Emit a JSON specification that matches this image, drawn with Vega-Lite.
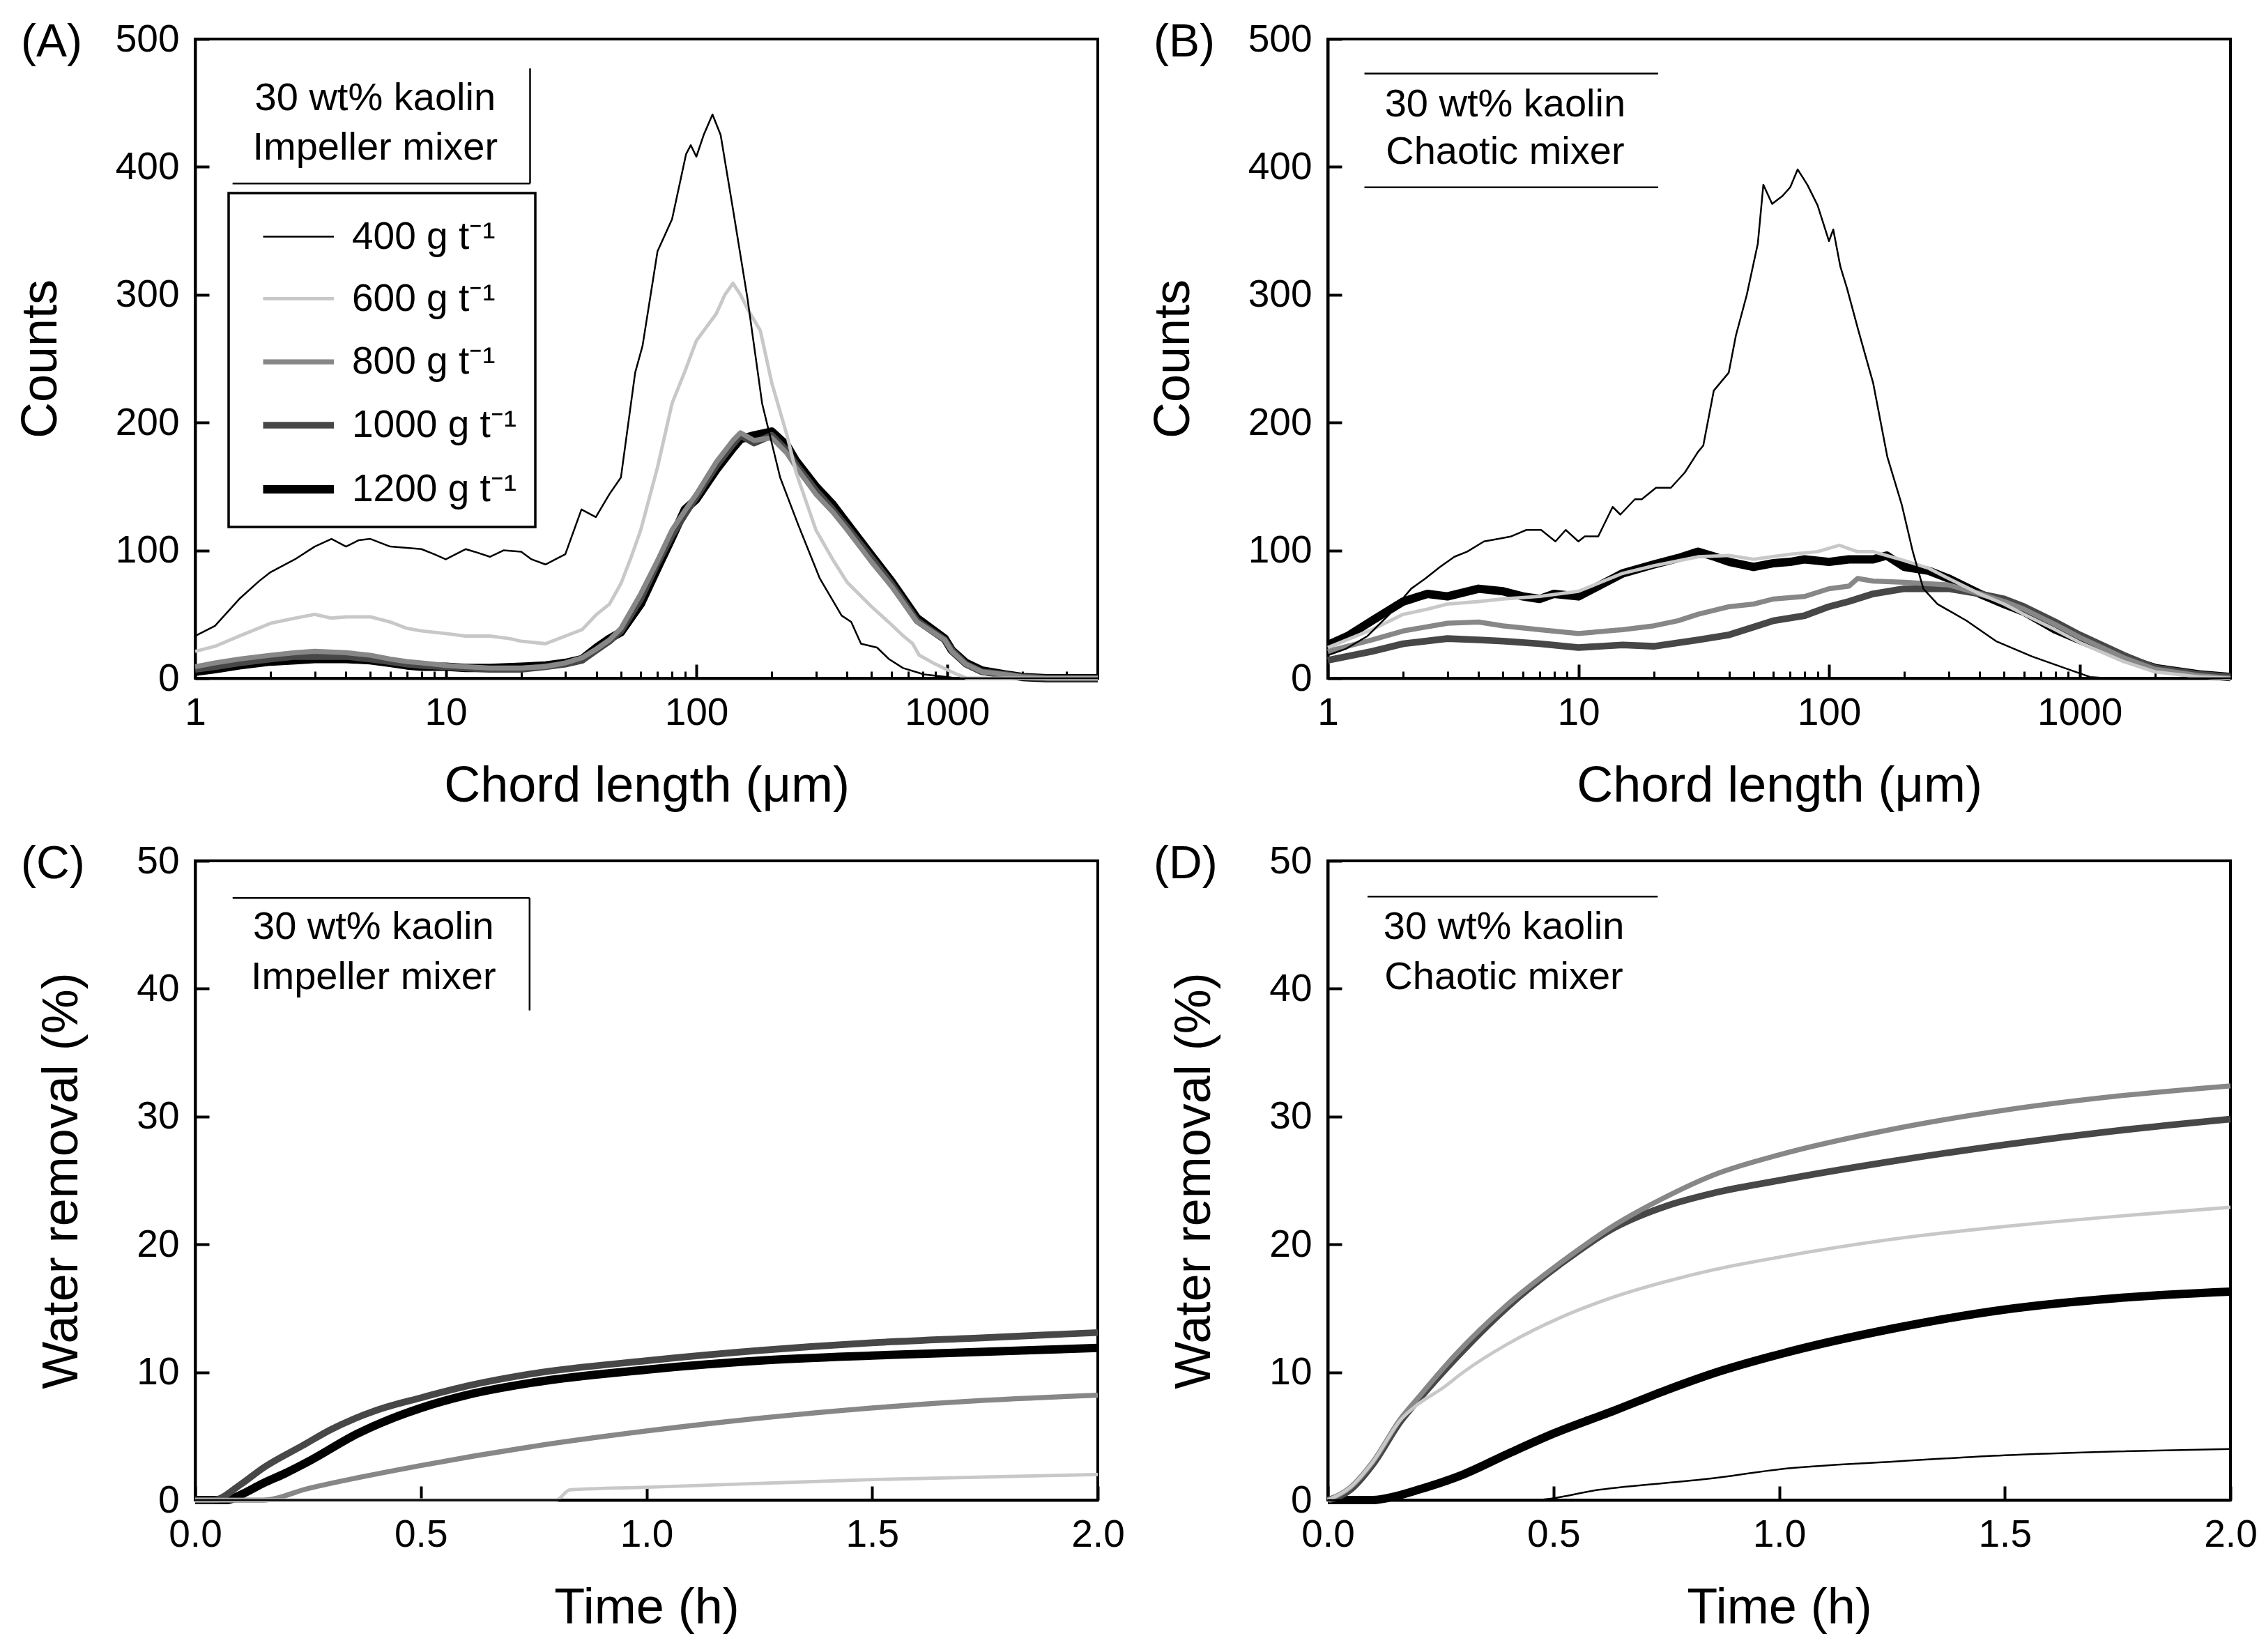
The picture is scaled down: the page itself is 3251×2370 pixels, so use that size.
{
  "$schema": "https://vega.github.io/schema/vega-lite/v6.json",
  "description": "Chord length distributions (A, B) and water removal over time (C, D) for 30 wt% kaolin at five flocculant doses.",
  "background": "white",
  "padding": {"left": 20, "top": 26, "right": 10, "bottom": 10},
  "config": {
    "font": "Liberation Sans",
    "view": {"stroke": "black", "strokeWidth": 4},
    "axis": {
      "grid": false, "domainColor": "black", "domainWidth": 4,
      "tickColor": "black", "tickWidth": 4, "tickSize": -20,
      "labelColor": "black", "labelFontSize": 55, "labelFont": "Liberation Sans",
      "labelFlush": false, "labelOverlap": false, "labelBound": false,
      "titleFont": "Liberation Sans", "titleFontSize": 72, "titleFontWeight": "normal", "titleColor": "black"
    },
    "axisX": {"labelPadding": 43, "titlePadding": 42},
    "axisY": {"labelPadding": 43, "titlePadding": 70},
    "title": {
      "font": "Liberation Sans", "fontSize": 66, "fontWeight": "normal", "color": "black",
      "anchor": "start", "frame": "group", "baseline": "middle", "offset": 0, "dx": -250, "dy": 70
    }
  },
  "datasets": {
    "A": [
      {"d":1200,"x":1,"y":5},{"d":1200,"x":1.2,"y":7},{"d":1200,"x":1.5,"y":10},{"d":1200,"x":2,"y":13},{"d":1200,"x":2.5,"y":14},{"d":1200,"x":3,"y":15},{"d":1200,"x":4,"y":15},{"d":1200,"x":5,"y":14},{"d":1200,"x":6,"y":12},{"d":1200,"x":7,"y":10},{"d":1200,"x":8,"y":9},{"d":1200,"x":10,"y":9},{"d":1200,"x":12,"y":8},{"d":1200,"x":15,"y":8},{"d":1200,"x":20,"y":9},{"d":1200,"x":25,"y":10},{"d":1200,"x":30,"y":12},{"d":1200,"x":35,"y":15},{"d":1200,"x":40,"y":24},{"d":1200,"x":45,"y":31},{"d":1200,"x":50,"y":36},{"d":1200,"x":60,"y":58},{"d":1200,"x":70,"y":86},{"d":1200,"x":80,"y":110},{"d":1200,"x":90,"y":132},{"d":1200,"x":100,"y":140},{"d":1200,"x":120,"y":163},{"d":1200,"x":140,"y":180},{"d":1200,"x":150,"y":187},{"d":1200,"x":170,"y":190},{"d":1200,"x":200,"y":193},{"d":1200,"x":230,"y":182},{"d":1200,"x":250,"y":170},{"d":1200,"x":300,"y":150},{"d":1200,"x":350,"y":136},{"d":1200,"x":400,"y":121},{"d":1200,"x":500,"y":96},{"d":1200,"x":600,"y":76},{"d":1200,"x":760,"y":47},{"d":1200,"x":980,"y":31},{"d":1200,"x":1045,"y":22},{"d":1200,"x":1190,"y":12},{"d":1200,"x":1380,"y":6},{"d":1200,"x":1700,"y":3},{"d":1200,"x":2000,"y":1},{"d":1200,"x":2500,"y":0},{"d":1200,"x":4000,"y":0},
      {"d":1000,"x":1,"y":7},{"d":1000,"x":1.2,"y":9},{"d":1000,"x":1.5,"y":12},{"d":1000,"x":2,"y":15},{"d":1000,"x":2.5,"y":17},{"d":1000,"x":3,"y":17},{"d":1000,"x":4,"y":17},{"d":1000,"x":5,"y":15},{"d":1000,"x":6,"y":13},{"d":1000,"x":7,"y":11},{"d":1000,"x":8,"y":10},{"d":1000,"x":10,"y":9},{"d":1000,"x":12,"y":8},{"d":1000,"x":15,"y":7},{"d":1000,"x":20,"y":7},{"d":1000,"x":25,"y":9},{"d":1000,"x":30,"y":11},{"d":1000,"x":35,"y":14},{"d":1000,"x":40,"y":22},{"d":1000,"x":45,"y":29},{"d":1000,"x":50,"y":37},{"d":1000,"x":60,"y":62},{"d":1000,"x":70,"y":90},{"d":1000,"x":80,"y":112},{"d":1000,"x":90,"y":128},{"d":1000,"x":100,"y":142},{"d":1000,"x":120,"y":166},{"d":1000,"x":140,"y":183},{"d":1000,"x":150,"y":190},{"d":1000,"x":170,"y":184},{"d":1000,"x":200,"y":190},{"d":1000,"x":230,"y":178},{"d":1000,"x":250,"y":167},{"d":1000,"x":300,"y":147},{"d":1000,"x":350,"y":132},{"d":1000,"x":400,"y":118},{"d":1000,"x":500,"y":94},{"d":1000,"x":600,"y":74},{"d":1000,"x":760,"y":45},{"d":1000,"x":980,"y":30},{"d":1000,"x":1045,"y":22},{"d":1000,"x":1190,"y":11},{"d":1000,"x":1380,"y":5},{"d":1000,"x":1700,"y":3},{"d":1000,"x":2000,"y":1},{"d":1000,"x":2500,"y":0},{"d":1000,"x":4000,"y":0},
      {"d":800,"x":1,"y":9},{"d":800,"x":1.2,"y":12},{"d":800,"x":1.5,"y":15},{"d":800,"x":2,"y":18},{"d":800,"x":2.5,"y":20},{"d":800,"x":3,"y":21},{"d":800,"x":4,"y":20},{"d":800,"x":5,"y":18},{"d":800,"x":6,"y":15},{"d":800,"x":7,"y":13},{"d":800,"x":8,"y":12},{"d":800,"x":10,"y":10},{"d":800,"x":12,"y":9},{"d":800,"x":15,"y":8},{"d":800,"x":20,"y":8},{"d":800,"x":25,"y":9},{"d":800,"x":30,"y":12},{"d":800,"x":35,"y":16},{"d":800,"x":40,"y":23},{"d":800,"x":45,"y":30},{"d":800,"x":50,"y":39},{"d":800,"x":60,"y":66},{"d":800,"x":70,"y":92},{"d":800,"x":80,"y":116},{"d":800,"x":90,"y":131},{"d":800,"x":100,"y":144},{"d":800,"x":120,"y":169},{"d":800,"x":140,"y":186},{"d":800,"x":150,"y":192},{"d":800,"x":170,"y":186},{"d":800,"x":200,"y":188},{"d":800,"x":230,"y":176},{"d":800,"x":250,"y":165},{"d":800,"x":300,"y":144},{"d":800,"x":350,"y":130},{"d":800,"x":400,"y":116},{"d":800,"x":500,"y":91},{"d":800,"x":600,"y":72},{"d":800,"x":760,"y":44},{"d":800,"x":980,"y":30},{"d":800,"x":1045,"y":21},{"d":800,"x":1190,"y":11},{"d":800,"x":1380,"y":5},{"d":800,"x":1700,"y":3},{"d":800,"x":2000,"y":1},{"d":800,"x":2500,"y":0},{"d":800,"x":4000,"y":0},
      {"d":600,"x":1,"y":21},{"d":600,"x":1.2,"y":25},{"d":600,"x":1.5,"y":33},{"d":600,"x":2,"y":43},{"d":600,"x":2.5,"y":47},{"d":600,"x":3,"y":50},{"d":600,"x":3.5,"y":47},{"d":600,"x":4,"y":48},{"d":600,"x":5,"y":48},{"d":600,"x":6,"y":44},{"d":600,"x":7,"y":39},{"d":600,"x":8,"y":37},{"d":600,"x":10,"y":35},{"d":600,"x":12,"y":33},{"d":600,"x":15,"y":33},{"d":600,"x":18,"y":31},{"d":600,"x":20,"y":29},{"d":600,"x":25,"y":27},{"d":600,"x":30,"y":33},{"d":600,"x":35,"y":38},{"d":600,"x":40,"y":50},{"d":600,"x":45,"y":58},{"d":600,"x":50,"y":74},{"d":600,"x":55,"y":95},{"d":600,"x":60,"y":116},{"d":600,"x":70,"y":165},{"d":600,"x":80,"y":215},{"d":600,"x":90,"y":240},{"d":600,"x":100,"y":264},{"d":600,"x":110,"y":275},{"d":600,"x":120,"y":285},{"d":600,"x":130,"y":300},{"d":600,"x":140,"y":309},{"d":600,"x":150,"y":300},{"d":600,"x":160,"y":289},{"d":600,"x":180,"y":272},{"d":600,"x":200,"y":231},{"d":600,"x":230,"y":190},{"d":600,"x":250,"y":161},{"d":600,"x":300,"y":116},{"d":600,"x":350,"y":93},{"d":600,"x":400,"y":75},{"d":600,"x":500,"y":56},{"d":600,"x":600,"y":42},{"d":600,"x":670,"y":33},{"d":600,"x":730,"y":27},{"d":600,"x":775,"y":18},{"d":600,"x":900,"y":11},{"d":600,"x":1070,"y":4},{"d":600,"x":1200,"y":0},{"d":600,"x":4000,"y":0},
      {"d":400,"x":1,"y":33},{"d":400,"x":1.2,"y":41},{"d":400,"x":1.5,"y":62},{"d":400,"x":1.8,"y":76},{"d":400,"x":2,"y":83},{"d":400,"x":2.5,"y":93},{"d":400,"x":3,"y":103},{"d":400,"x":3.5,"y":109},{"d":400,"x":4,"y":103},{"d":400,"x":4.5,"y":108},{"d":400,"x":5,"y":109},{"d":400,"x":6,"y":103},{"d":400,"x":7,"y":102},{"d":400,"x":8,"y":101},{"d":400,"x":9,"y":97},{"d":400,"x":10,"y":93},{"d":400,"x":12,"y":101},{"d":400,"x":13,"y":99},{"d":400,"x":15,"y":95},{"d":400,"x":17,"y":100},{"d":400,"x":20,"y":99},{"d":400,"x":22,"y":93},{"d":400,"x":25,"y":89},{"d":400,"x":28,"y":94},{"d":400,"x":30,"y":97},{"d":400,"x":34.8,"y":132},{"d":400,"x":39.7,"y":126},{"d":400,"x":45,"y":144},{"d":400,"x":50,"y":157},{"d":400,"x":57,"y":239},{"d":400,"x":61,"y":260},{"d":400,"x":70,"y":334},{"d":400,"x":80,"y":359},{"d":400,"x":91,"y":410},{"d":400,"x":95,"y":417},{"d":400,"x":100,"y":408},{"d":400,"x":107,"y":425},{"d":400,"x":116,"y":441},{"d":400,"x":125,"y":425},{"d":400,"x":140,"y":367},{"d":400,"x":160,"y":297},{"d":400,"x":183,"y":215},{"d":400,"x":216,"y":157},{"d":400,"x":255,"y":120},{"d":400,"x":311,"y":78},{"d":400,"x":380,"y":49},{"d":400,"x":415,"y":44},{"d":400,"x":454,"y":27},{"d":400,"x":526,"y":24},{"d":400,"x":587,"y":15},{"d":400,"x":668,"y":8},{"d":400,"x":809,"y":3},{"d":400,"x":1000,"y":1},{"d":400,"x":1100,"y":0},{"d":400,"x":4000,"y":0}
    ],
    "B": [
      {"d":1200,"x":1,"y":26},{"d":1200,"x":1.2,"y":33},{"d":1200,"x":1.5,"y":45},{"d":1200,"x":2,"y":60},{"d":1200,"x":2.5,"y":66},{"d":1200,"x":3,"y":64},{"d":1200,"x":4,"y":70},{"d":1200,"x":5,"y":68},{"d":1200,"x":6,"y":64},{"d":1200,"x":7,"y":62},{"d":1200,"x":8,"y":66},{"d":1200,"x":10,"y":64},{"d":1200,"x":12,"y":72},{"d":1200,"x":15,"y":82},{"d":1200,"x":20,"y":89},{"d":1200,"x":25,"y":94},{"d":1200,"x":30,"y":99},{"d":1200,"x":35,"y":95},{"d":1200,"x":40,"y":91},{"d":1200,"x":50,"y":87},{"d":1200,"x":60,"y":90},{"d":1200,"x":70,"y":91},{"d":1200,"x":80,"y":93},{"d":1200,"x":100,"y":91},{"d":1200,"x":120,"y":93},{"d":1200,"x":150,"y":93},{"d":1200,"x":170,"y":96},{"d":1200,"x":200,"y":87},{"d":1200,"x":250,"y":84},{"d":1200,"x":300,"y":78},{"d":1200,"x":400,"y":66},{"d":1200,"x":500,"y":58},{"d":1200,"x":600,"y":52},{"d":1200,"x":800,"y":38},{"d":1200,"x":1000,"y":30},{"d":1200,"x":1500,"y":16},{"d":1200,"x":2000,"y":8},{"d":1200,"x":3000,"y":3},{"d":1200,"x":4000,"y":1},
      {"d":1000,"x":1,"y":14},{"d":1000,"x":1.5,"y":21},{"d":1000,"x":2,"y":27},{"d":1000,"x":3,"y":31},{"d":1000,"x":4,"y":30},{"d":1000,"x":5,"y":29},{"d":1000,"x":7,"y":27},{"d":1000,"x":10,"y":24},{"d":1000,"x":15,"y":26},{"d":1000,"x":20,"y":25},{"d":1000,"x":30,"y":30},{"d":1000,"x":40,"y":34},{"d":1000,"x":50,"y":40},{"d":1000,"x":60,"y":45},{"d":1000,"x":80,"y":49},{"d":1000,"x":100,"y":56},{"d":1000,"x":120,"y":60},{"d":1000,"x":150,"y":66},{"d":1000,"x":200,"y":70},{"d":1000,"x":300,"y":70},{"d":1000,"x":400,"y":66},{"d":1000,"x":500,"y":62},{"d":1000,"x":600,"y":56},{"d":1000,"x":800,"y":44},{"d":1000,"x":1000,"y":34},{"d":1000,"x":1500,"y":18},{"d":1000,"x":2000,"y":8},{"d":1000,"x":3000,"y":3},{"d":1000,"x":4000,"y":1},
      {"d":800,"x":1,"y":21},{"d":800,"x":1.5,"y":30},{"d":800,"x":2,"y":37},{"d":800,"x":3,"y":43},{"d":800,"x":4,"y":44},{"d":800,"x":5,"y":41},{"d":800,"x":7,"y":38},{"d":800,"x":10,"y":35},{"d":800,"x":15,"y":38},{"d":800,"x":20,"y":41},{"d":800,"x":25,"y":45},{"d":800,"x":30,"y":50},{"d":800,"x":40,"y":56},{"d":800,"x":50,"y":58},{"d":800,"x":60,"y":62},{"d":800,"x":80,"y":64},{"d":800,"x":100,"y":70},{"d":800,"x":120,"y":72},{"d":800,"x":130,"y":78},{"d":800,"x":150,"y":76},{"d":800,"x":200,"y":75},{"d":800,"x":300,"y":73},{"d":800,"x":400,"y":66},{"d":800,"x":500,"y":60},{"d":800,"x":600,"y":54},{"d":800,"x":800,"y":42},{"d":800,"x":1000,"y":32},{"d":800,"x":1500,"y":16},{"d":800,"x":2000,"y":7},{"d":800,"x":3000,"y":2},{"d":800,"x":4000,"y":0},
      {"d":600,"x":1,"y":24},{"d":600,"x":1.5,"y":38},{"d":600,"x":2,"y":50},{"d":600,"x":2.5,"y":54},{"d":600,"x":3,"y":58},{"d":600,"x":4,"y":60},{"d":600,"x":5,"y":62},{"d":600,"x":7,"y":64},{"d":600,"x":10,"y":68},{"d":600,"x":15,"y":82},{"d":600,"x":20,"y":88},{"d":600,"x":30,"y":95},{"d":600,"x":40,"y":96},{"d":600,"x":50,"y":93},{"d":600,"x":70,"y":97},{"d":600,"x":90,"y":99},{"d":600,"x":110,"y":104},{"d":600,"x":130,"y":99},{"d":600,"x":150,"y":99},{"d":600,"x":200,"y":92},{"d":600,"x":250,"y":86},{"d":600,"x":300,"y":78},{"d":600,"x":400,"y":66},{"d":600,"x":500,"y":58},{"d":600,"x":600,"y":50},{"d":600,"x":800,"y":38},{"d":600,"x":1000,"y":28},{"d":600,"x":1500,"y":13},{"d":600,"x":2000,"y":5},{"d":600,"x":3000,"y":1},{"d":600,"x":4000,"y":0},
      {"d":400,"x":1,"y":18},{"d":400,"x":1.18,"y":23},{"d":400,"x":1.44,"y":33},{"d":400,"x":1.76,"y":50},{"d":400,"x":2.15,"y":70},{"d":400,"x":2.45,"y":78},{"d":400,"x":2.8,"y":87},{"d":400,"x":3.2,"y":95},{"d":400,"x":3.6,"y":99},{"d":400,"x":4.2,"y":107},{"d":400,"x":4.8,"y":109},{"d":400,"x":5.4,"y":111},{"d":400,"x":6.2,"y":116},{"d":400,"x":7.1,"y":116},{"d":400,"x":8.1,"y":107},{"d":400,"x":8.9,"y":116},{"d":400,"x":10,"y":107},{"d":400,"x":10.6,"y":111},{"d":400,"x":12,"y":111},{"d":400,"x":13.7,"y":134},{"d":400,"x":14.7,"y":128},{"d":400,"x":16.8,"y":140},{"d":400,"x":17.9,"y":140},{"d":400,"x":20.4,"y":149},{"d":400,"x":23.4,"y":149},{"d":400,"x":26.6,"y":161},{"d":400,"x":30,"y":177},{"d":400,"x":31.5,"y":182},{"d":400,"x":34.7,"y":225},{"d":400,"x":39.8,"y":239},{"d":400,"x":42.5,"y":268},{"d":400,"x":47,"y":300},{"d":400,"x":52,"y":340},{"d":400,"x":54.7,"y":386},{"d":400,"x":59.3,"y":371},{"d":400,"x":65,"y":377},{"d":400,"x":70,"y":384},{"d":400,"x":75,"y":398},{"d":400,"x":82,"y":386},{"d":400,"x":90,"y":370},{"d":400,"x":100,"y":342},{"d":400,"x":104,"y":351},{"d":400,"x":111,"y":322},{"d":400,"x":118,"y":305},{"d":400,"x":131,"y":272},{"d":400,"x":150,"y":231},{"d":400,"x":171,"y":173},{"d":400,"x":195,"y":136},{"d":400,"x":216,"y":99},{"d":400,"x":238,"y":70},{"d":400,"x":271,"y":58},{"d":400,"x":354,"y":45},{"d":400,"x":464,"y":29},{"d":400,"x":647,"y":17},{"d":400,"x":900,"y":7},{"d":400,"x":1100,"y":1},{"d":400,"x":1300,"y":0},{"d":400,"x":4000,"y":0}
    ],
    "C": [
      {"d":1200,"x":0,"y":0},{"d":1200,"x":0.07,"y":0},{"d":1200,"x":0.1,"y":0.4},{"d":1200,"x":0.15,"y":1.3},{"d":1200,"x":0.2,"y":2.1},{"d":1200,"x":0.25,"y":3.0},{"d":1200,"x":0.36,"y":5.2},{"d":1200,"x":0.5,"y":7.2},{"d":1200,"x":0.6,"y":8.2},{"d":1200,"x":0.75,"y":9.2},{"d":1200,"x":1.0,"y":10.2},{"d":1200,"x":1.25,"y":10.9},{"d":1200,"x":1.5,"y":11.3},{"d":1200,"x":1.75,"y":11.6},{"d":1200,"x":2.0,"y":11.9},
      {"d":1000,"x":0,"y":0},{"d":1000,"x":0.04,"y":0},{"d":1000,"x":0.1,"y":1.2},{"d":1000,"x":0.15,"y":2.5},{"d":1000,"x":0.24,"y":4.3},{"d":1000,"x":0.3,"y":5.5},{"d":1000,"x":0.4,"y":7.0},{"d":1000,"x":0.5,"y":8.0},{"d":1000,"x":0.6,"y":8.9},{"d":1000,"x":0.75,"y":9.9},{"d":1000,"x":1.0,"y":10.9},{"d":1000,"x":1.25,"y":11.7},{"d":1000,"x":1.5,"y":12.3},{"d":1000,"x":1.75,"y":12.7},{"d":1000,"x":2.0,"y":13.1},
      {"d":800,"x":0,"y":0},{"d":800,"x":0.15,"y":0},{"d":800,"x":0.25,"y":0.9},{"d":800,"x":0.5,"y":2.7},{"d":800,"x":0.75,"y":4.2},{"d":800,"x":1.0,"y":5.4},{"d":800,"x":1.25,"y":6.4},{"d":800,"x":1.5,"y":7.2},{"d":800,"x":1.75,"y":7.8},{"d":800,"x":2.0,"y":8.2},
      {"d":600,"x":0,"y":0},{"d":600,"x":0.8,"y":0},{"d":600,"x":0.83,"y":0.8},{"d":600,"x":1.0,"y":1.0},{"d":600,"x":1.25,"y":1.3},{"d":600,"x":1.5,"y":1.6},{"d":600,"x":1.75,"y":1.8},{"d":600,"x":2.0,"y":2.0},
      {"d":400,"x":0,"y":0},{"d":400,"x":1.0,"y":0},{"d":400,"x":2.0,"y":0}
    ],
    "D": [
      {"d":1200,"x":0,"y":0},{"d":1200,"x":0.1,"y":0},{"d":1200,"x":0.15,"y":0.3},{"d":1200,"x":0.2,"y":0.8},{"d":1200,"x":0.3,"y":2.0},{"d":1200,"x":0.398,"y":3.6},{"d":1200,"x":0.5,"y":5.2},{"d":1200,"x":0.635,"y":7.0},{"d":1200,"x":0.75,"y":8.6},{"d":1200,"x":0.853,"y":9.9},{"d":1200,"x":1.0,"y":11.4},{"d":1200,"x":1.25,"y":13.4},{"d":1200,"x":1.5,"y":14.9},{"d":1200,"x":1.75,"y":15.8},{"d":1200,"x":2.0,"y":16.3},
      {"d":1000,"x":0,"y":0},{"d":1000,"x":0.05,"y":0.8},{"d":1000,"x":0.1,"y":2.8},{"d":1000,"x":0.162,"y":6.2},{"d":1000,"x":0.2,"y":7.8},{"d":1000,"x":0.281,"y":11.0},{"d":1000,"x":0.398,"y":15.1},{"d":1000,"x":0.517,"y":18.5},{"d":1000,"x":0.635,"y":21.3},{"d":1000,"x":0.75,"y":23.0},{"d":1000,"x":0.853,"y":24.0},{"d":1000,"x":1.0,"y":25.0},{"d":1000,"x":1.25,"y":26.5},{"d":1000,"x":1.5,"y":27.8},{"d":1000,"x":1.75,"y":28.9},{"d":1000,"x":2.0,"y":29.8},
      {"d":800,"x":0,"y":0},{"d":800,"x":0.05,"y":1.0},{"d":800,"x":0.1,"y":3.0},{"d":800,"x":0.162,"y":6.4},{"d":800,"x":0.2,"y":8.0},{"d":800,"x":0.281,"y":11.3},{"d":800,"x":0.398,"y":15.3},{"d":800,"x":0.517,"y":18.6},{"d":800,"x":0.635,"y":21.5},{"d":800,"x":0.754,"y":23.8},{"d":800,"x":0.853,"y":25.4},{"d":800,"x":1.0,"y":27.0},{"d":800,"x":1.25,"y":29.0},{"d":800,"x":1.5,"y":30.5},{"d":800,"x":1.75,"y":31.6},{"d":800,"x":2.0,"y":32.4},
      {"d":600,"x":0,"y":0},{"d":600,"x":0.05,"y":1.0},{"d":600,"x":0.1,"y":3.0},{"d":600,"x":0.162,"y":6.3},{"d":600,"x":0.2,"y":7.5},{"d":600,"x":0.256,"y":8.8},{"d":600,"x":0.3,"y":10.0},{"d":600,"x":0.398,"y":12.2},{"d":600,"x":0.517,"y":14.3},{"d":600,"x":0.635,"y":15.9},{"d":600,"x":0.75,"y":17.1},{"d":600,"x":0.853,"y":18.0},{"d":600,"x":1.0,"y":19.0},{"d":600,"x":1.25,"y":20.4},{"d":600,"x":1.5,"y":21.4},{"d":600,"x":1.75,"y":22.2},{"d":600,"x":2.0,"y":22.9},
      {"d":400,"x":0,"y":0},{"d":400,"x":0.457,"y":0},{"d":400,"x":0.6,"y":0.8},{"d":400,"x":0.853,"y":1.7},{"d":400,"x":1.0,"y":2.4},{"d":400,"x":1.25,"y":3.0},{"d":400,"x":1.5,"y":3.5},{"d":400,"x":1.75,"y":3.8},{"d":400,"x":2.0,"y":4.0}
    ],
    "tA": [{"x":5.23,"y":453.6,"t":"30 wt% kaolin"},{"x":5.23,"y":414.8,"t":"Impeller mixer"}],
    "rA": [{"x":21.7,"x2":21.7,"y":477,"y2":387},{"x":1.41,"x2":21.7,"y":387,"y2":387}],
    "tB": [{"x":5.1,"y":448.7,"t":"30 wt% kaolin"},{"x":5.1,"y":411.6,"t":"Chaotic mixer"}],
    "rB": [{"x":1.4,"x2":20.8,"y":473,"y2":473},{"x":1.4,"x2":20.8,"y":384,"y2":384}],
    "tC": [{"x":0.395,"y":44.8,"t":"30 wt% kaolin"},{"x":0.395,"y":40.9,"t":"Impeller mixer"}],
    "rC": [{"x":0.083,"x2":0.741,"y":47.1,"y2":47.1},{"x":0.741,"x2":0.741,"y":47.1,"y2":38.3}],
    "tD": [{"x":0.39,"y":44.8,"t":"30 wt% kaolin"},{"x":0.39,"y":40.9,"t":"Chaotic mixer"}],
    "rD": [{"x":0.088,"x2":0.731,"y":47.2,"y2":47.2}]
  },
  "concat": [
    {
      "width": 1295, "height": 917,
      "title": "(A)",
      "layer": [
        {
          "data": {"name": "A"},
          "mark": {"type": "line", "strokeJoin": "round"},
          "encoding": {
            "x": {"field": "x", "type": "quantitative", "scale": {"type": "log", "domain": [1, 4000], "nice": false},
                  "axis": {"title": "Chord length (μm)", "values": [1, 10, 100, 1000], "format": "d", "orient": "bottom"}},
            "y": {"field": "y", "type": "quantitative", "scale": {"domain": [0, 500], "nice": false},
                  "axis": {"title": "Counts", "values": [0, 100, 200, 300, 400, 500], "format": "d"}},
            "color": {"field": "d", "type": "ordinal",
                      "scale": {"domain": [400, 600, 800, 1000, 1200], "range": ["#000000", "#c8c8c8", "#878787", "#474747", "#000000"]},
                      "legend": {"title": null, "orient": "none", "legendX": 48, "legendY": 221, "labelExpr": "datum.label + ' g t⁻¹'",
                                 "labelFontSize": 55, "labelFont": "Liberation Sans", "labelColor": "black", "labelLimit": 600,
                                 "strokeColor": "black", "padding": 26, "rowPadding": 23, "symbolSize": 4900,
                                 "symbolType": "M-0.5,0H2.4", "labelOffset": 69,
                                 "encode": {"legend": {"update": {"strokeWidth": {"value": 3.5}}}}}},
            "strokeWidth": {"field": "d", "type": "ordinal",
                            "scale": {"domain": [400, 600, 800, 1000, 1200], "range": [2.5, 12]},
                            "legend": {"title": null, "orient": "none", "legendX": 48, "legendY": 221, "labelExpr": "datum.label + ' g t⁻¹'",
                                       "labelFontSize": 55, "labelFont": "Liberation Sans", "labelColor": "black", "labelLimit": 600,
                                       "strokeColor": "black", "padding": 26, "rowPadding": 23, "symbolSize": 4900,
                                       "symbolType": "M-0.5,0H2.4", "labelOffset": 69,
                                       "encode": {"legend": {"update": {"strokeWidth": {"value": 3.5}}}}}}
          }
        },
        {
          "data": {"name": "rA"},
          "mark": {"type": "rule", "color": "black", "strokeWidth": 2.5},
          "encoding": {
            "x": {"field": "x", "type": "quantitative", "scale": {"type": "log", "domain": [1, 4000], "nice": false},
                  "axis": {"values": [2, 3, 4, 5, 6, 7, 8, 9, 20, 30, 40, 50, 60, 70, 80, 90, 200, 300, 400, 500, 600, 700, 800, 900, 2000, 3000],
                           "labels": false, "title": null, "domain": false, "tickSize": -10, "tickWidth": 3, "orient": "bottom"}},
            "x2": {"field": "x2"},
            "y": {"field": "y", "type": "quantitative", "scale": {"domain": [0, 500], "nice": false}},
            "y2": {"field": "y2"}
          }
        },
        {
          "data": {"name": "tA"},
          "mark": {"type": "text", "fontSize": 56, "font": "Liberation Sans", "color": "black", "align": "center", "baseline": "middle"},
          "encoding": {
            "x": {"field": "x", "type": "quantitative", "scale": {"type": "log", "domain": [1, 4000], "nice": false}, "axis": null},
            "y": {"field": "y", "type": "quantitative", "scale": {"domain": [0, 500], "nice": false}},
            "text": {"field": "t"}
          }
        }
      ],
      "resolve": {"scale": {"x": "independent"}, "axis": {"x": "independent"}}
    },
    {
      "width": 1295, "height": 917,
      "title": "(B)",
      "layer": [
        {
          "data": {"name": "B"},
          "mark": {"type": "line", "strokeJoin": "round"},
          "encoding": {
            "x": {"field": "x", "type": "quantitative", "scale": {"type": "log", "domain": [1, 4000], "nice": false},
                  "axis": {"title": "Chord length (μm)", "values": [1, 10, 100, 1000], "format": "d", "orient": "bottom"}},
            "y": {"field": "y", "type": "quantitative", "scale": {"domain": [0, 500], "nice": false},
                  "axis": {"title": "Counts", "values": [0, 100, 200, 300, 400, 500], "format": "d"}},
            "color": {"field": "d", "type": "ordinal",
                      "scale": {"domain": [400, 600, 800, 1000, 1200], "range": ["#000000", "#c8c8c8", "#878787", "#474747", "#000000"]},
                      "legend": null},
            "strokeWidth": {"field": "d", "type": "ordinal",
                            "scale": {"domain": [400, 600, 800, 1000, 1200], "range": [2.5, 12]}, "legend": null}
          }
        },
        {
          "data": {"name": "rB"},
          "mark": {"type": "rule", "color": "black", "strokeWidth": 2.5},
          "encoding": {
            "x": {"field": "x", "type": "quantitative", "scale": {"type": "log", "domain": [1, 4000], "nice": false},
                  "axis": {"values": [2, 3, 4, 5, 6, 7, 8, 9, 20, 30, 40, 50, 60, 70, 80, 90, 200, 300, 400, 500, 600, 700, 800, 900, 2000, 3000],
                           "labels": false, "title": null, "domain": false, "tickSize": -10, "tickWidth": 3, "orient": "bottom"}},
            "x2": {"field": "x2"},
            "y": {"field": "y", "type": "quantitative", "scale": {"domain": [0, 500], "nice": false}},
            "y2": {"field": "y2"}
          }
        },
        {
          "data": {"name": "tB"},
          "mark": {"type": "text", "fontSize": 56, "font": "Liberation Sans", "color": "black", "align": "center", "baseline": "middle"},
          "encoding": {
            "x": {"field": "x", "type": "quantitative", "scale": {"type": "log", "domain": [1, 4000], "nice": false}, "axis": null},
            "y": {"field": "y", "type": "quantitative", "scale": {"domain": [0, 500], "nice": false}},
            "text": {"field": "t"}
          }
        }
      ],
      "resolve": {"scale": {"x": "independent"}, "axis": {"x": "independent"}}
    },
    {
      "width": 1295, "height": 917,
      "title": "(C)",
      "layer": [
        {
          "data": {"name": "C"},
          "mark": {"type": "line", "interpolate": "monotone", "strokeJoin": "round"},
          "encoding": {
            "x": {"field": "x", "type": "quantitative", "scale": {"domain": [0, 2], "nice": false},
                  "axis": {"title": "Time (h)", "values": [0, 0.5, 1, 1.5, 2], "format": ".1f"}},
            "y": {"field": "y", "type": "quantitative", "scale": {"domain": [0, 50], "nice": false},
                  "axis": {"title": "Water removal (%)", "values": [0, 10, 20, 30, 40, 50], "format": "d"}},
            "color": {"field": "d", "type": "ordinal",
                      "scale": {"domain": [400, 600, 800, 1000, 1200], "range": ["#000000", "#c8c8c8", "#878787", "#474747", "#000000"]},
                      "legend": null},
            "strokeWidth": {"field": "d", "type": "ordinal",
                            "scale": {"domain": [400, 600, 800, 1000, 1200], "range": [2.5, 12]}, "legend": null}
          }
        },
        {
          "data": {"name": "rC"},
          "mark": {"type": "rule", "color": "black", "strokeWidth": 2.5},
          "encoding": {
            "x": {"field": "x", "type": "quantitative", "scale": {"domain": [0, 2], "nice": false}},
            "x2": {"field": "x2"},
            "y": {"field": "y", "type": "quantitative", "scale": {"domain": [0, 50], "nice": false}},
            "y2": {"field": "y2"}
          }
        },
        {
          "data": {"name": "tC"},
          "mark": {"type": "text", "fontSize": 56, "font": "Liberation Sans", "color": "black", "align": "center", "baseline": "middle"},
          "encoding": {
            "x": {"field": "x", "type": "quantitative", "scale": {"domain": [0, 2], "nice": false}},
            "y": {"field": "y", "type": "quantitative", "scale": {"domain": [0, 50], "nice": false}},
            "text": {"field": "t"}
          }
        }
      ]
    },
    {
      "width": 1295, "height": 917,
      "title": "(D)",
      "layer": [
        {
          "data": {"name": "D"},
          "mark": {"type": "line", "interpolate": "monotone", "strokeJoin": "round"},
          "encoding": {
            "x": {"field": "x", "type": "quantitative", "scale": {"domain": [0, 2], "nice": false},
                  "axis": {"title": "Time (h)", "values": [0, 0.5, 1, 1.5, 2], "format": ".1f"}},
            "y": {"field": "y", "type": "quantitative", "scale": {"domain": [0, 50], "nice": false},
                  "axis": {"title": "Water removal (%)", "values": [0, 10, 20, 30, 40, 50], "format": "d"}},
            "color": {"field": "d", "type": "ordinal",
                      "scale": {"domain": [400, 600, 800, 1000, 1200], "range": ["#000000", "#c8c8c8", "#878787", "#474747", "#000000"]},
                      "legend": null},
            "strokeWidth": {"field": "d", "type": "ordinal",
                            "scale": {"domain": [400, 600, 800, 1000, 1200], "range": [2.5, 12]}, "legend": null}
          }
        },
        {
          "data": {"name": "rD"},
          "mark": {"type": "rule", "color": "black", "strokeWidth": 2.5},
          "encoding": {
            "x": {"field": "x", "type": "quantitative", "scale": {"domain": [0, 2], "nice": false}},
            "x2": {"field": "x2"},
            "y": {"field": "y", "type": "quantitative", "scale": {"domain": [0, 50], "nice": false}},
            "y2": {"field": "y2"}
          }
        },
        {
          "data": {"name": "tD"},
          "mark": {"type": "text", "fontSize": 56, "font": "Liberation Sans", "color": "black", "align": "center", "baseline": "middle"},
          "encoding": {
            "x": {"field": "x", "type": "quantitative", "scale": {"domain": [0, 2], "nice": false}},
            "y": {"field": "y", "type": "quantitative", "scale": {"domain": [0, 50], "nice": false}},
            "text": {"field": "t"}
          }
        }
      ]
    }
  ],
  "columns": 2,
  "spacing": {"row": 262, "column": 330},
  "bounds": "flush",
  "resolve": {"scale": {"color": "independent", "strokeWidth": "independent"}, "legend": {"color": "independent", "strokeWidth": "independent"}}
}
